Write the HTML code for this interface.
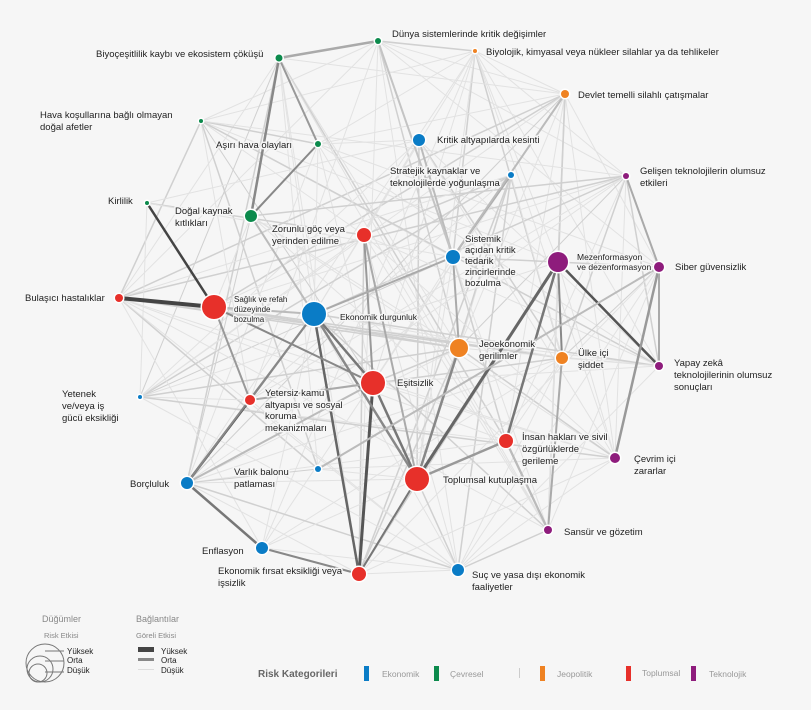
<!DOCTYPE html>
<html><head><meta charset="utf-8"><style>
html,body{margin:0;padding:0;background:#f6f6f6}
svg{display:block;font-family:"Liberation Sans",sans-serif}
.l{font-size:9.5px;fill:#222;stroke:#f6f6f6;stroke-width:3px;paint-order:stroke;stroke-linejoin:round}
</style></head><body>
<svg id="s" width="811" height="710" viewBox="0 0 811 710">
<rect width="811" height="710" fill="#f6f6f6"/>
<g id="edges"></g>
<g id="nodes"></g>
<g class="l">
<text x="392" y="37">Dünya sistemlerinde kritik değişimler</text>
<text x="486" y="55">Biyolojik, kimyasal veya nükleer silahlar ya da tehlikeler</text>
<text x="96" y="57">Biyoçeşitlilik kaybı ve ekosistem çöküşü</text>
<text x="578" y="98">Devlet temelli silahlı çatışmalar</text>
<text x="40" y="118">Hava koşullarına bağlı olmayan</text>
<text x="40" y="130">doğal afetler</text>
<text x="216" y="148">Aşırı hava olayları</text>
<text x="437" y="143">Kritik altyapılarda  kesinti</text>
<text x="640" y="174">Gelişen teknolojilerin olumsuz</text>
<text x="640" y="186">etkileri</text>
<text x="390" y="174">Stratejik kaynaklar ve</text>
<text x="390" y="186">teknolojilerde yoğunlaşma</text>
<text x="108" y="204">Kirlilik</text>
<text x="175" y="214">Doğal kaynak</text>
<text x="175" y="226">kıtlıkları</text>
<text x="272" y="232">Zorunlu göç veya</text>
<text x="272" y="244">yerinden edilme</text>
<text x="465" y="242">Sistemik</text>
<text x="465" y="253">açıdan kritik</text>
<text x="465" y="264">tedarik</text>
<text x="465" y="275">zincirlerinde</text>
<text x="465" y="286">bozulma</text>
<text x="577" y="260" style="font-size:8.5px">Mezenformasyon</text>
<text x="577" y="270" style="font-size:8.5px">ve dezenformasyon</text>
<text x="675" y="270">Siber güvensizlik</text>
<text x="25" y="301">Bulaşıcı hastalıklar</text>
<text x="234" y="302" style="font-size:8px">Sağlık ve refah</text>
<text x="234" y="312" style="font-size:8px">düzeyinde</text>
<text x="234" y="322" style="font-size:8px">bozulma</text>
<text x="340" y="320" style="font-size:8.5px">Ekonomik durgunluk</text>
<text x="479" y="347">Jeoekonomik</text>
<text x="479" y="359">gerilimler</text>
<text x="578" y="356">Ülke içi</text>
<text x="578" y="368">şiddet</text>
<text x="674" y="366">Yapay zekâ</text>
<text x="674" y="378">teknolojilerinin olumsuz</text>
<text x="674" y="390">sonuçları</text>
<text x="397" y="386">Eşitsizlik</text>
<text x="62" y="397">Yetenek</text>
<text x="62" y="409">ve/veya iş</text>
<text x="62" y="421">gücü eksikliği</text>
<text x="265" y="396">Yetersiz kamu</text>
<text x="265" y="408">altyapısı  ve sosyal</text>
<text x="265" y="419">koruma</text>
<text x="265" y="431">mekanizmaları</text>
<text x="522" y="440">İnsan hakları ve sivil</text>
<text x="522" y="452">özgürlüklerde</text>
<text x="522" y="464">gerileme</text>
<text x="634" y="462">Çevrim içi</text>
<text x="634" y="474">zararlar</text>
<text x="234" y="475">Varlık balonu</text>
<text x="234" y="487">patlaması</text>
<text x="130" y="487">Borçluluk</text>
<text x="443" y="483">Toplumsal kutuplaşma</text>
<text x="564" y="535">Sansür ve gözetim</text>
<text x="202" y="554">Enflasyon</text>
<text x="218" y="574">Ekonomik fırsat eksikliği veya</text>
<text x="218" y="586">işsizlik</text>
<text x="472" y="578">Suç ve yasa dışı ekonomik</text>
<text x="472" y="590">faaliyetler</text>
</g>
<!-- legend -->
<g font-size="9" fill="#888">
<text x="42" y="622">Düğümler</text>
<text x="136" y="622">Bağlantılar</text>
<text x="44" y="638" font-size="7.5">Risk Etkisi</text>
<text x="136" y="638" font-size="7.5">Göreli Etkisi</text>
</g>
<g fill="none" stroke="#777" stroke-width="1">
<circle cx="45" cy="663" r="19"/><circle cx="40" cy="669" r="13"/><circle cx="38" cy="673" r="9"/>
<line x1="45" y1="651" x2="64" y2="651"/><line x1="45" y1="661" x2="64" y2="661"/><line x1="45" y1="672" x2="64" y2="672"/>
</g>
<g font-size="8" fill="#222">
<text x="67" y="654">Yüksek</text><text x="67" y="663">Orta</text><text x="67" y="673">Düşük</text>
<text x="161" y="654">Yüksek</text><text x="161" y="663">Orta</text><text x="161" y="673">Düşük</text>
</g>
<rect x="138" y="647" width="16" height="5" fill="#444"/>
<rect x="138" y="658" width="16" height="3" fill="#888"/>
<rect x="138" y="669" width="16" height="1" fill="#ddd"/>
<text x="258" y="677" font-size="10" font-weight="bold" fill="#666">Risk Kategorileri</text>
<g font-size="8.5" fill="#999">
<rect x="364" y="666" width="5" height="15" fill="#0a7cc6"/><text x="382" y="677">Ekonomik</text>
<rect x="434" y="666" width="5" height="15" fill="#0c8a4c"/><text x="450" y="677">Çevresel</text>
<rect x="519" y="668" width="1" height="10" fill="#ccc"/>
<rect x="540" y="666" width="5" height="15" fill="#ef8222"/><text x="557" y="677">Jeopolitik</text>
<rect x="626" y="666" width="5" height="15" fill="#e7302a"/><text x="642" y="676">Toplumsal</text>
<rect x="691" y="666" width="5" height="15" fill="#8e1c7c"/><text x="709" y="677">Teknolojik</text>
</g>
</svg>
<script>
var B="#0a7cc6",G="#0c8a4c",O="#ef8222",R="#e7302a",P="#8e1c7c";
var N=[[378,41,3,G],[475,51,2,O],[279,58,3.5,G],[565,94,4,O],[201,121,2,G],[318,144,3,G],[419,140,6,B],[626,176,3,P],[511,175,3,B],[147,203,2,G],[251,216,6,G],[364,235,7,R],[453,257,7,B],[558,262,10,P],[659,267,5,P],[119,298,4,R],[214,307,12,R],[314,314,12,B],[459,348,9,O],[562,358,6,O],[659,366,4,P],[373,383,12,R],[140,397,2,B],[250,400,5,R],[506,441,7,R],[615,458,5,P],[318,469,3,B],[187,483,6,B],[417,479,12,R],[548,530,4,P],[262,548,6,B],[359,574,7,R],[458,570,6,B]];
var heavy=[[15,16,4,"#444"],[9,16,2.5,"#444"],[27,23,2.5,"#555"],[21,31,3,"#555"],[13,28,3,"#666"],[13,20,2.5,"#555"],[13,24,2.5,"#777"],[13,19,2,"#888"],[17,21,2.5,"#777"],[17,28,2.5,"#888"],[17,23,2,"#888"],[17,31,2.5,"#666"],[17,27,2,"#888"],[2,10,2.5,"#888"],[2,5,2,"#999"],[5,10,2,"#888"],[0,2,2.5,"#aaa"],[14,25,2.5,"#999"],[14,20,2,"#aaa"],[27,30,2.5,"#777"],[30,31,2,"#888"],[28,24,2.5,"#999"],[21,28,2.5,"#777"],[16,21,2,"#888"],[16,23,2,"#999"],[11,21,2,"#999"],[11,28,2,"#aaa"],[12,18,2,"#aaa"],[6,12,2,"#bbb"],[8,12,2,"#aaa"],[18,28,2.5,"#888"],[24,29,2,"#999"],[19,29,2,"#aaa"],[17,12,2,"#aaa"],[16,17,2,"#bbb"],[3,12,2,"#bbb"],[7,14,2,"#aaa"],[14,26,2,"#bbb"],[21,27,2,"#bbb"],[28,31,2,"#777"],[23,21,2,"#aaa"],[29,24,2,"#bbb"],[0,12,2,"#c4c4c4"],[10,17,2,"#bbb"]];
var s="";
function ln(a,b,w,c){s+='<line x1="'+N[a][0]+'" y1="'+N[a][1]+'" x2="'+N[b][0]+'" y2="'+N[b][1]+'" stroke="'+c+'" stroke-width="'+w+'"/>';}
var seed=7;function rnd(){seed=(seed*16807)%2147483647;return seed/2147483647;}
for(var i=0;i<N.length;i++)for(var j=i+1;j<N.length;j++){var r=rnd();if(r<0.38)ln(i,j,r<0.1?1.5:1,r<0.12?"#d0d0d0":"#e2e2e2");}
heavy.forEach(function(h){ln(h[0],h[1],h[2],h[3]);});
document.getElementById("edges").innerHTML=s;
var n="";N.forEach(function(d){n+='<circle cx="'+d[0]+'" cy="'+d[1]+'" r="'+(d[2]+1.5)+'" fill="#fff"/><circle cx="'+d[0]+'" cy="'+d[1]+'" r="'+d[2]+'" fill="'+d[3]+'"/>';});
document.getElementById("nodes").innerHTML=n;
</script>
</body></html>
